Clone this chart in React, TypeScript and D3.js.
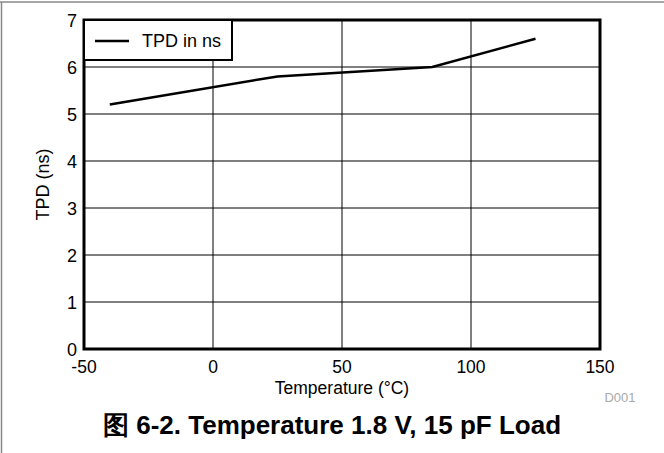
import React from "react";
import * as d3 from "d3";

const temps = [-40, 25, 85, 125];
const tpd = [5.2, 5.8, 6.0, 6.6];
const xTicks = [-50, 0, 50, 100, 150];
const yTicks = [0, 1, 2, 3, 4, 5, 6, 7];
const seriesName = "TPD in ns";
const xTitle = "Temperature (°C)";
const yTitle = "TPD (ns)";
const figTitle = "图 6-2. Temperature 1.8 V, 15 pF Load";
const figId = "D001";

const W = 664, H = 453;
const L = 84, R = 600, T = 20, B = 349;
const font = "'Liberation Sans', Arial, sans-serif";

export default function App() {
  const x = d3.scaleLinear().domain([-50, 150]).range([L, R]);
  const y = d3.scaleLinear().domain([0, 7]).range([B, T]);
  const line = d3.line<number>().x((_, i) => x(temps[i])).y((d) => y(d));
  return (
    <svg width={W} height={H} style={{ position: "absolute", left: 0, top: 0, background: "#fff" }} fontFamily={font}>
      <rect x={0} y={0} width={W} height={H} fill="#fff" />
      <line x1={0} x2={W} y1={2} y2={2} stroke="#888" strokeWidth={1.5} />
      <line x1={1.5} x2={1.5} y1={2} y2={H} stroke="#888" strokeWidth={1.5} />
      {xTicks.map((t) => (
        <line key={"gx" + t} x1={x(t)} x2={x(t)} y1={T} y2={B} stroke="#000" strokeWidth={1} />
      ))}
      {yTicks.map((t) => (
        <line key={"gy" + t} x1={L} x2={R} y1={y(t)} y2={y(t)} stroke="#000" strokeWidth={1} />
      ))}
      <rect x={L} y={T} width={R - L} height={B - T} fill="none" stroke="#000" strokeWidth={3} />
      <path d={line(tpd) || ""} fill="none" stroke="#000" strokeWidth={2.5} />
      <rect x={L} y={T} width={148} height={40} fill="#fff" stroke="#000" strokeWidth={2} />
      <line x1={95} x2={129} y1={41} y2={41} stroke="#000" strokeWidth={2.5} />
      <text x={142} y={46.5} fontSize={18}>{seriesName}</text>
      {yTicks.map((t) => (
        <text key={"ty" + t} x={77} y={y(t) + 6.5} fontSize={18} textAnchor="end">{t}</text>
      ))}
      {xTicks.map((t) => (
        <text key={"tx" + t} x={x(t)} y={373} fontSize={17.5} textAnchor="middle">{t}</text>
      ))}
      <text x={(L + R) / 2} y={394} fontSize={17.5} textAnchor="middle">{xTitle}</text>
      <text transform={`translate(49,${(T + B) / 2}) rotate(-90)`} fontSize={18} textAnchor="middle">{yTitle}</text>
      <text x={620} y={402} fontSize={13} fill="#aaa" textAnchor="middle">{figId}</text>
      <text x={332} y={434} fontSize={26} fontWeight="bold" textAnchor="middle">{figTitle}</text>
    </svg>
  );
}
